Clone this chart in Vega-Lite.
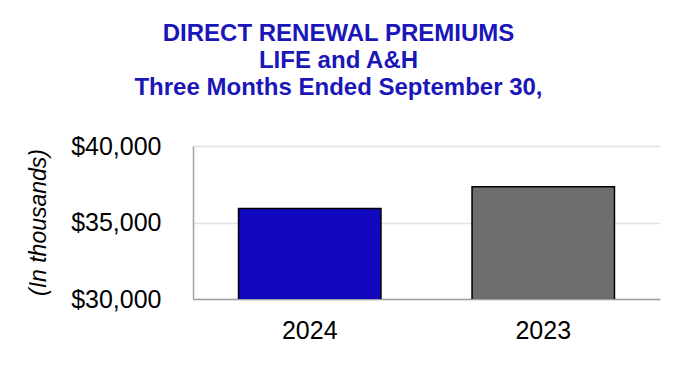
{
  "$schema": "https://vega.github.io/schema/vega-lite/v6.json",
  "autosize": {"type": "none"},
  "width": 467,
  "height": 153,
  "padding": {"left": 193, "top": 146, "right": 20, "bottom": 67},
  "background": "white",
  "title": {
    "text": ["DIRECT RENEWAL PREMIUMS", "LIFE and A&H", "Three Months Ended September 30,"],
    "font": "Liberation Sans",
    "fontSize": 24,
    "fontWeight": "bold",
    "color": "#1a16b8",
    "lineHeight": 27,
    "anchor": "middle",
    "frame": "group",
    "dx": -88,
    "offset": 34
  },
  "data": {
    "values": [
      {"year": "2024", "premiums": 35920},
      {"year": "2023", "premiums": 37340}
    ]
  },
  "mark": {"type": "bar", "stroke": "#000000", "strokeWidth": 1.5, "clip": true},
  "encoding": {
    "x": {
      "field": "year",
      "type": "nominal",
      "sort": ["2024", "2023"],
      "scale": {"paddingInner": 0.39, "paddingOuter": 0.195},
      "axis": {
        "title": null,
        "labelAngle": 0,
        "labelFont": "Liberation Sans",
        "labelFontSize": 25,
        "labelColor": "#000000",
        "labelPadding": 19,
        "ticks": false,
        "domainColor": "#a0a0a0",
        "domainWidth": 1.5
      }
    },
    "y": {
      "field": "premiums",
      "type": "quantitative",
      "scale": {"domain": [30000, 40000], "nice": false, "zero": false},
      "axis": {
        "values": [30000, 35000, 40000],
        "format": "$,.0f",
        "labelFont": "Liberation Sans",
        "labelFontSize": 25,
        "labelColor": "#000000",
        "labelPadding": 32,
        "ticks": false,
        "domainColor": "#a0a0a0",
        "domainWidth": 1.5,
        "gridColor": "#e2e2e2",
        "gridWidth": 1.5,
        "title": "(In thousands)",
        "titleFont": "Liberation Sans",
        "titleFontSize": 23,
        "titleFontWeight": "normal",
        "titleFontStyle": "italic",
        "titleColor": "#000000",
        "titleX": -155,
        "titleY": 76,
        "titleAngle": -90,
        "titleAlign": "center",
        "titleBaseline": "middle"
      }
    },
    "color": {
      "field": "year",
      "type": "nominal",
      "scale": {"domain": ["2024", "2023"], "range": ["#1208c0", "#6e6e6e"]},
      "legend": null
    }
  },
  "config": {"view": {"stroke": null}}
}
